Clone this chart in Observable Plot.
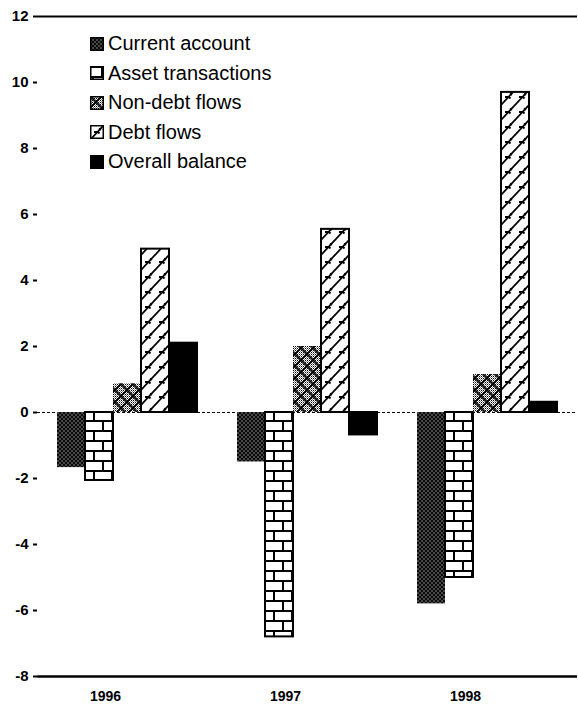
<!DOCTYPE html>
<html>
<head>
<meta charset="utf-8">
<script src="https://cdn.jsdelivr.net/npm/d3@7"></script>
<script src="https://cdn.jsdelivr.net/npm/@observablehq/plot@0.6"></script>
<style>
  body { margin: 0; background: #fff; }
  #chart { position: relative; width: 578px; height: 713px; font-family: "Liberation Sans", Arial, sans-serif; }
  #legend { position: absolute; left: 90px; top: 29px; }
  .item { display: flex; align-items: center; height: 29.5px; font-size: 20px; color: #000; white-space: nowrap; }
  .item svg { margin-right: 4px; flex: none; }
  #chart > svg text { font-weight: bold; }
</style>
</head>
<body>
<div id="chart"><div id="legend"></div></div>
<script>
// Balance-of-payments components, percent of GDP
const years = ["1996", "1997", "1998"];
const series = ["Current account", "Asset transactions", "Non-debt flows", "Debt flows", "Overall balance"];
const currentAccount    = [-1.67, -1.5, -5.8];
const assetTransactions = [-2.06, -6.8, -5.0];
const nonDebtFlows      = [0.87, 2.0, 1.15];
const debtFlows         = [4.95, 5.55, 9.7];
const overallBalance    = [2.1, -0.68, 0.31];
const yTicks = [-8, -6, -4, -2, 0, 2, 4, 6, 8, 10, 12];

const valuesBySeries = [currentAccount, assetTransactions, nonDebtFlows, debtFlows, overallBalance];
const rows = series.flatMap((s, i) => years.map((year, j) => ({year, series: s, value: valuesBySeries[i][j]})));

// fill patterns and outlines per series
const fills = series.map((_, i) => `url(#pat-${i})`);
const strokes = ["none", "#000", "none", "#000", "#000"];

const chart = Plot.plot({
  width: 578,
  height: 713,
  marginLeft: 36,
  marginRight: 1,
  marginTop: 16,
  marginBottom: 37,
  style: {fontFamily: "Liberation Sans, Arial, sans-serif", background: "white", color: "#000"},
  fx: {domain: years, padding: 0, label: null},
  x: {domain: series, paddingInner: 0, paddingOuter: 0.68, axis: null},
  y: {domain: [-8, 12], label: null},
  marks: [
    Plot.ruleY([0], {stroke: "#000", strokeWidth: 1, strokeDasharray: "3,2"}),
    ...series.map((s, i) => Plot.barY(rows.filter(d => d.series === s), {
      fx: "year", x: "series", y: "value",
      fill: fills[i], stroke: strokes[i], strokeWidth: 2, inset: 0
    })),
    Plot.ruleY([12], {stroke: "#000", strokeWidth: 2}),
    Plot.ruleY([-8], {stroke: "#000", strokeWidth: 2.5}),
    Plot.axisY({anchor: "left", ticks: yTicks, tickFormat: d => `${d}`, tickSize: 4, tickPadding: 5,
                line: true, strokeWidth: 2, fontSize: 15, fontWeight: "bold", label: null}),
    Plot.axisY({anchor: "right", ticks: [], line: true, stroke: "#aaa", strokeDasharray: "1,2", label: null}),
    Plot.axisFx({anchor: "bottom", tickSize: 0, tickPadding: 15, dx: -22, fontSize: 14, fontWeight: "bold", label: null})
  ]
});

const svgEl = chart.tagName.toLowerCase() === "svg" ? chart : chart.querySelector("svg");
const defs = d3.select(svgEl).insert("defs", ":first-child");

// base texture: fine checker
const dots = defs.append("pattern").attr("id", "dots").attr("patternUnits", "userSpaceOnUse").attr("width", 2).attr("height", 2);
dots.append("rect").attr("width", 2).attr("height", 2).attr("fill", "#fff");
dots.append("rect").attr("width", 1).attr("height", 1).attr("fill", "#000");
dots.append("rect").attr("x", 1).attr("y", 1).attr("width", 1).attr("height", 1).attr("fill", "#888");

// 0: dark stipple
const p0 = defs.append("pattern").attr("id", "pat-0").attr("patternUnits", "userSpaceOnUse").attr("width", 4).attr("height", 4);
p0.append("rect").attr("width", 4).attr("height", 4).attr("fill", "#0a0a0a");
p0.append("rect").attr("x", 0.5).attr("y", 0.5).attr("width", 1).attr("height", 1).attr("fill", "#fff");
p0.append("rect").attr("x", 2.5).attr("y", 2.5).attr("width", 1).attr("height", 1).attr("fill", "#fff");

// 1: bricks
const p1 = defs.append("pattern").attr("id", "pat-1").attr("patternUnits", "userSpaceOnUse").attr("width", 18).attr("height", 20);
p1.append("rect").attr("width", 18).attr("height", 20).attr("fill", "#fff");
p1.append("path").attr("d", "M0,1H18M0,11H18M12,1V11M3,11V21").attr("stroke", "#000").attr("stroke-width", 2).attr("fill", "none");

// 2: diamond lattice over checker
const p2 = defs.append("pattern").attr("id", "pat-2").attr("patternUnits", "userSpaceOnUse").attr("width", 12).attr("height", 12);
p2.append("rect").attr("width", 12).attr("height", 12).attr("fill", "url(#dots)");
p2.append("path").attr("d", "M0,0L12,12M12,0L0,12").attr("stroke", "#000").attr("stroke-width", 1.8).attr("fill", "none");

// 3: steep diagonal strokes with small hooks
const p3 = defs.append("pattern").attr("id", "pat-3").attr("patternUnits", "userSpaceOnUse").attr("width", 14).attr("height", 15);
p3.append("rect").attr("width", 14).attr("height", 15).attr("fill", "#fff");
p3.append("path").attr("d", "M0,15L14,0M-2,2L2,-2M12,17L16,13M4,7h4l1.5,1.5M9,3.5l2,1.5").attr("stroke", "#000").attr("stroke-width", 1.8).attr("fill", "none");

// 4: solid
const p4 = defs.append("pattern").attr("id", "pat-4").attr("patternUnits", "userSpaceOnUse").attr("width", 4).attr("height", 4);
p4.append("rect").attr("width", 4).attr("height", 4).attr("fill", "#000");

const container = document.getElementById("chart");
container.insertBefore(chart, container.firstChild);

// legend inside the plot area
const legend = d3.select("#legend");
series.forEach((s, i) => {
  const item = legend.append("div").attr("class", "item");
  const sw = item.append("svg").attr("width", 14).attr("height", 14);
  sw.append("rect").attr("x", 0.75).attr("y", 0.75).attr("width", 12.5).attr("height", 12.5)
    .attr("fill", fills[i]).attr("stroke", "#000").attr("stroke-width", 1.5);
  item.append("span").text(s);
});
</script>
</body>
</html>
